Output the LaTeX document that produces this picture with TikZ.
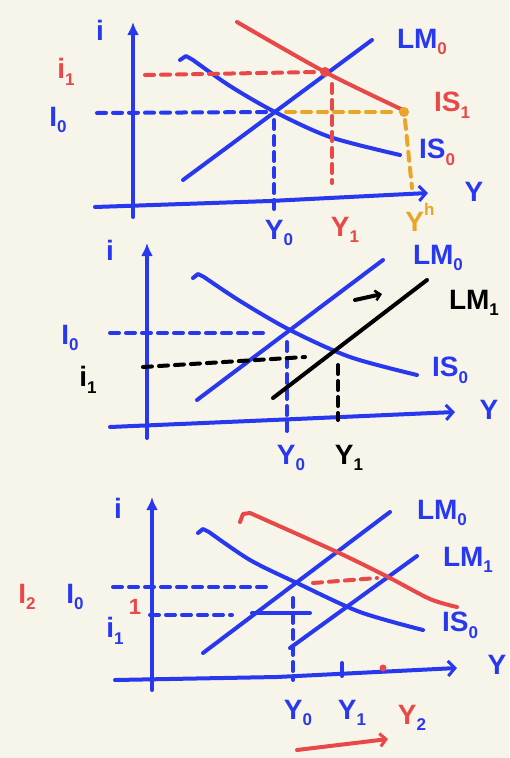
\documentclass[tikz,border=0pt]{standalone}
\usepackage{fontspec}
\setmainfont{Liberation Sans}
\usetikzlibrary{arrows.meta}
\definecolor{bg}{RGB}{247,244,233}
\definecolor{pb}{RGB}{40,56,238}
\definecolor{pr}{RGB}{232,72,72}
\definecolor{po}{RGB}{234,165,40}
\newcommand{\sbx}[1]{\raisebox{-0.45ex}{\fontsize{17}{17}\selectfont #1}}
\begin{document}
\begin{tikzpicture}[x=1pt,y=-1pt,
  pen/.style={line width=4pt,line cap=round,line join=round},
  dsh/.style={pen,dash pattern=on 9pt off 7pt},
  lbl/.style={font=\fontsize{28}{28}\selectfont\bfseries,inner sep=0pt},
  ytip/.style={-{Latex[length=13pt,width=12pt]}},
  xtip/.style={-{Straight Barb[length=7pt,width=15pt,line width=3pt]}},
  dotr/.style={circle,fill,inner sep=0pt,minimum size=10pt}]
\fill[bg] (0,0) rectangle (509,758);
\useasboundingbox (0,0) rectangle (509,758);

% ================= Panel 1 =================
\draw[pen,pb,ytip] (133,217) -- (133,22);
\draw[pen,pb,xtip] (95,207) -- (270,201) -- (428,193);
\draw[dsh,pb] (97,113) -- (268,112);
\draw[dsh,pb] (274,120) -- (274,212);
\draw[pen,pb] (183,180) coordinate (lm0a) -- (372,40) coordinate (lm0b);
\draw[pen,pb] (180,60) -- (186,56) -- (193,60)
  plot[smooth] coordinates {(193,60) (230,86) (275,112) (330,137) (400,155)};
\draw[pen,pr] plot[smooth] coordinates {(237,22) (325,72) (403,110)};
\draw[dsh,pr] (145,75) -- (318,72);
\node[dotr,pr] (e1) at (325,72) {};
\draw[dsh,pr] (332,84) -- (332,183);
\draw[dsh,po] (286,112) -- (396,112);
\node[dotr,po] (eh) at (404,112) {};
\draw[dsh,po] (405,120) -- (412,188);

\node[lbl,pb] (i1lab) at (100,30) {i};
\node[lbl,pr] (i1p) at (66,72) {i\sbx{1}};
\node[lbl,pb] (i0p) at (58,120) {I\sbx{0}};
\node[lbl,pb] (lm0p1) at (422,42) {LM\textcolor{pr}{\sbx{0}}};
\node[lbl,pr] (is1p1) at (452,105) {IS\sbx{1}};
\node[lbl,pb] (is0p1) at (437,152) {IS\textcolor{pr}{\sbx{0}}};
\node[lbl,pb] (yax1) at (474,192) {Y};
\node[lbl,pb] (y0p1) at (279,233) {Y\sbx{0}};
\node[lbl,pr] (y1p1) at (345,230) {Y\sbx{1}};
\node[lbl,po] (yhp1) at (420,217) {Y\raisebox{1.1ex}{\fontsize{17}{17}\selectfont h}};

% ================= Panel 2 =================
\draw[pen,pb,ytip] (147,438) -- (147,243);
\draw[pen,pb,xtip] (110,427) -- (273,420) -- (455,412);
\draw[dsh,pb] (110,333) -- (267,333);
\draw[dsh,pb] (287,342) -- (287,432);
\draw[pen,pb] (197,400) -- (383,260);
\draw[pen,pb] (193,278) -- (198,274) -- (204,277)
  plot[smooth] coordinates {(204,277) (240,301) (290,330) (350,357) (417,375)};
\draw[pen,black] (273,398) -- (427,280);
\draw[pen,black,-{Straight Barb[length=5pt,width=10pt,line width=2.5pt]}] (355,300) -- (382,294);
\draw[dsh,black] (143,367) -- (305,357);
\draw[dsh,black] (338,365) -- (338,420);

\node[lbl,pb] (ilab2) at (110,250) {i};
\node[lbl,pb] (i0p2) at (70,338) {I\sbx{0}};
\node[lbl,black] (i1p2) at (88,380) {i\sbx{1}};
\node[lbl,pb] (lm0p2) at (438,258) {LM\sbx{0}};
\node[lbl,black] (lm1p2) at (474,303) {LM\sbx{1}};
\node[lbl,pb] (is0p2) at (450,370) {IS\sbx{0}};
\node[lbl,pb] (yax2) at (489,410) {Y};
\node[lbl,pb] (y0p2) at (291,458) {Y\sbx{0}};
\node[lbl,black] (y1p2) at (349,458) {Y\sbx{1}};

% ================= Panel 3 =================
\draw[pen,pb,ytip] (152,690) -- (152,497);
\draw[pen,pb,xtip] (115,680) -- (277,677) -- (457,668);
\draw[dsh,pb] (113,587) -- (268,587);
\draw[dsh,pr] (313,583) -- (377,578);
\draw[dsh,pb] (150,615) -- (232,615);
\draw[pen,pb] (252,613) -- (310,613);
\draw[dsh,pb] (293,598) -- (293,680);
\draw[pen,pb] (203,653) -- (390,512);
\draw[pen,pb] (290,648) -- (417,556);
\draw[pen,pb] (198,533) -- (203,529) -- (209,532)
  plot[smooth] coordinates {(209,532) (250,560) (297,583) (360,612) (423,630)};
\draw[pen,pr] (240,522) -- (243,514) -- (250,513)
  plot[smooth] coordinates {(250,513) (337,552) (388,577) (430,599) (457,607)};
\draw[pen,pb] (342,663) -- (342,676);
\node[dotr,pr,minimum size=7pt] (y2dot) at (383,668) {};

\node[lbl,pb] (ilab3) at (118,508) {i};
\node[lbl,pr] (i2p3) at (27,597) {I\sbx{2}};
\node[lbl,pb] (i0p3) at (75,597) {I\sbx{0}};
\node[lbl,pb] (i1p3) at (115,631) {i\sbx{1}};
\node[lbl,pr,font=\fontsize{22}{22}\selectfont\bfseries] (onep3) at (135,607) {1};
\node[lbl,pb] (lm0p3) at (442,513) {LM\sbx{0}};
\node[lbl,pb] (lm1p3) at (468,560) {LM\sbx{1}};
\node[lbl,pb] (is0p3) at (460,625) {IS\sbx{0}};
\node[lbl,pb] (yax3) at (497,665) {Y};
\node[lbl,pb] (y0p3) at (298,713) {Y\sbx{0}};
\node[lbl,pb] (y1p3) at (352,713) {Y\sbx{1}};
\node[lbl,pr] (y2p3) at (412,718) {Y\textcolor{pb}{\sbx{2}}};
\coordinate (ra) at (297,750);
\coordinate (rb) at (388,739);
\draw[pen,pr,-{Straight Barb[length=6pt,width=13pt,line width=3pt]}] (ra) -- (rb);
\end{tikzpicture}
\end{document}
